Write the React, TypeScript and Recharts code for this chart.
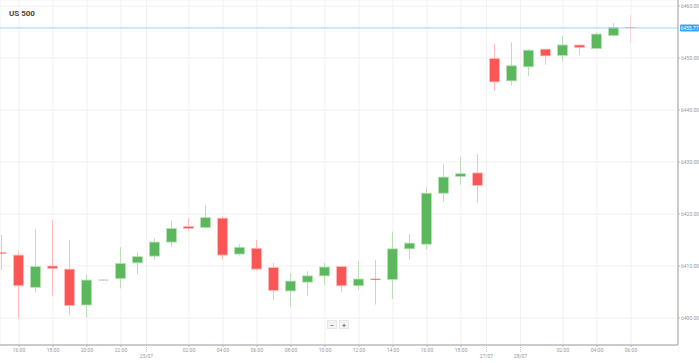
import React from 'react';
import { ComposedChart, Bar, XAxis, YAxis, CartesianGrid, ReferenceLine } from 'recharts';

const title = 'US 500';

const hours = [
  '15:00', '16:00', '17:00', '18:00', '19:00', '20:00', '21:00', '22:00', '23:00', '00:00',
  '01:00', '02:00', '03:00', '04:00', '05:00', '06:00', '07:00', '08:00', '09:00', '10:00',
  '11:00', '12:00', '13:00', '14:00', '15:00', '16:00', '17:00', '18:00', '19:00', '22:00',
  '23:00', '00:00', '01:00', '02:00', '03:00', '04:00', '05:00', '06:00',
];

const opens = [
  6412.5, 6412.1, 6405.9, 6410.0, 6409.4, 6402.5, 6407.3, 6407.6, 6410.6, 6411.9,
  6414.6, 6417.6, 6417.4, 6419.2, 6412.3, 6413.4, 6409.7, 6405.2, 6406.9, 6408.1,
  6409.9, 6406.2, 6407.45, 6407.4, 6413.3, 6414.2, 6424.0, 6427.2, 6427.9, 6449.9,
  6445.6, 6448.3, 6451.7, 6450.5, 6452.5, 6451.8, 6454.3, 6455.85,
];
const highs = [
  6416.0, 6412.8, 6417.1, 6418.8, 6415.0, 6408.4, 6407.4, 6413.6, 6412.6, 6415.3,
  6418.7, 6419.2, 6421.7, 6419.6, 6414.2, 6415.0, 6410.6, 6408.6, 6409.0, 6410.6,
  6409.9, 6411.0, 6411.2, 6416.6, 6416.1, 6425.1, 6429.6, 6431.0, 6431.5, 6452.8,
  6453.0, 6451.7, 6451.7, 6454.2, 6452.5, 6454.9, 6456.7, 6458.3,
];
const lows = [
  6409.2, 6399.9, 6404.9, 6404.3, 6400.6, 6400.1, 6407.2, 6405.7, 6408.4, 6411.2,
  6413.7, 6416.8, 6417.2, 6411.3, 6412.0, 6409.1, 6403.4, 6402.1, 6404.2, 6406.3,
  6404.9, 6405.4, 6402.6, 6403.6, 6411.3, 6413.2, 6422.4, 6425.6, 6422.2, 6443.7,
  6444.7, 6446.5, 6448.7, 6449.3, 6450.6, 6451.7, 6454.1, 6453.0,
];
const closes = [
  6412.4, 6406.2, 6409.9, 6409.5, 6402.4, 6407.3, 6407.3, 6410.5, 6411.8, 6414.6,
  6417.2, 6417.2, 6419.3, 6412.1, 6413.6, 6409.4, 6405.3, 6407.1, 6408.1, 6409.8,
  6406.2, 6407.5, 6407.35, 6413.3, 6414.4, 6424.0, 6427.1, 6427.75, 6425.5, 6445.4,
  6448.5, 6451.5, 6450.4, 6452.5, 6452.0, 6454.6, 6455.9, 6455.77,
];

const timeTickIdx = [1, 3, 5, 7, 11, 13, 15, 17, 19, 21, 23, 25, 27, 33, 35, 37];
const dateTickIdx = [8.5, 28.5, 30.5];
const dateTickLabels = ['25/07', '27/07', '28/07'];
const priceTicks = [6400, 6410, 6420, 6430, 6440, 6450, 6460];
const lastPrice = 6455.77;

const data = hours.map((h, i) => ({
  i,
  hour: h,
  open: opens[i],
  high: highs[i],
  low: lows[i],
  close: closes[i],
  last: i === hours.length - 1,
}));

const allTicks = [...timeTickIdx, ...dateTickIdx].sort((a, b) => a - b);

const UP = '#5cb85c';
const UP_LIGHT = '#b9e0b9';
const DOWN = '#fb5656';
const DOWN_LIGHT = '#ffbdbd';
const FLAT = '#bdbdbd';

const Candle = (props: any) => {
  const { x, y, width, height, payload } = props;
  if (!payload || x == null || y == null) return null;
  const { open, close, high, low, last } = payload;
  const range = high - low;
  const toY = (v: number) => (range === 0 ? y : y + ((high - v) / range) * height);
  const cx = x + width / 2;
  const up = close > open;
  const flat = close === open;
  const main = flat ? FLAT : up ? UP : DOWN;
  const light = flat ? FLAT : up ? UP_LIGHT : DOWN_LIGHT;
  const top = toY(Math.max(open, close));
  const bot = toY(Math.min(open, close));
  const bh = Math.max(1, bot - top);
  const bw = 10;
  return (
    <g opacity={last ? 0.55 : 1}>
      <line x1={cx} x2={cx} y1={y} y2={y + height} stroke={light} strokeWidth={1} />
      <rect
        x={cx - bw / 2}
        y={bh <= 1 ? top - 0.5 : top}
        width={bw}
        height={bh}
        fill={main}
        stroke={bh > 2 ? light : 'none'}
        strokeWidth={bh > 2 ? 0.8 : 0}
      />
    </g>
  );
};

const XTick = (props: any) => {
  const { x, y, payload } = props;
  const v = payload.value;
  const di = dateTickIdx.indexOf(v);
  if (di >= 0) {
    return (
      <g>
        <line x1={x} x2={x} y1={y} y2={y + 7} stroke="#bbb" strokeWidth={0.8} strokeDasharray="1 1" />
        <text x={x} y={y + 13} textAnchor="middle" fontSize={5} fill="#999" fontFamily="Roboto, sans-serif">
          {dateTickLabels[di]}
        </text>
      </g>
    );
  }
  return (
    <g>
      <line x1={x} x2={x} y1={y} y2={y + 2} stroke="#aaa" strokeWidth={0.8} />
      <text x={x} y={y + 7} textAnchor="middle" fontSize={5} fill="#999" fontFamily="Roboto, sans-serif">
        {hours[v]}
      </text>
    </g>
  );
};

const PriceLabel = (props: any) => {
  const vb = props.viewBox || {};
  const x = (vb.x ?? 0) + (vb.width ?? 0) + 2;
  const y = vb.y ?? 0;
  return (
    <g>
      <rect x={x} y={y - 3.5} width={19} height={7} rx={1} fill="#3aa3f3" />
      <text x={x + 9.5} y={y + 1.8} textAnchor="middle" fontSize={5} fill="#fff" fontFamily="Roboto, sans-serif">
        {lastPrice.toFixed(2)}
      </text>
    </g>
  );
};

const btn: React.CSSProperties = {
  position: 'absolute',
  top: 320,
  width: 10,
  height: 9,
  background: '#f4f4f4',
  border: '0.5px solid #e6e6e6',
  color: '#555',
  fontSize: 8,
  lineHeight: '9px',
  textAlign: 'center',
  fontFamily: 'Roboto, sans-serif',
  boxSizing: 'border-box',
};

export default function App() {
  return (
    <div style={{ position: 'absolute', left: 0, top: 0, width: 699, height: 363, background: '#fff' }}>
      <ComposedChart
        width={699}
        height={363}
        data={data}
        margin={{ top: 0, right: 0, bottom: 0, left: 0 }}
      >
        <CartesianGrid stroke="#f1f1f1" strokeWidth={1} />
        <XAxis
          dataKey="i"
          type="number"
          domain={[-0.1176, 39.765]}
          allowDataOverflow
          ticks={allTicks}
          interval={0}
          height={18}
          tickLine={false}
          tickSize={0}
          tickMargin={0}
          tick={<XTick />}
          axisLine={{ stroke: '#bdbdbd', strokeWidth: 1.5 }}
        />
        <YAxis
          orientation="right"
          width={21}
          type="number"
          domain={[6394.81, 6461.15]}
          allowDataOverflow
          ticks={priceTicks}
          interval={0}
          tickFormatter={(v: number) => v.toFixed(2)}
          tick={{ fontSize: 5, fill: '#999', fontFamily: 'Roboto, sans-serif' }}
          tickSize={2}
          tickMargin={1}
          tickLine={{ stroke: '#bbb' }}
          axisLine={{ stroke: '#bdbdbd', strokeWidth: 1.5 }}
        />
        <ReferenceLine y={lastPrice} stroke="#9fd2fa" strokeWidth={1} label={<PriceLabel />} />
        <Bar
          dataKey={(d: any) => [d.low, d.high]}
          barSize={10}
          shape={<Candle />}
          isAnimationActive={false}
        />
      </ComposedChart>
      <div
        style={{
          position: 'absolute',
          left: 9,
          top: 9,
          fontFamily: 'Roboto, sans-serif',
          fontWeight: 700,
          fontSize: 8,
          color: '#444',
          lineHeight: '10px',
        }}
      >
        {title}
      </div>
      <div style={{ ...btn, left: 327 }}>−</div>
      <div style={{ ...btn, left: 339 }}>+</div>
    </div>
  );
}
